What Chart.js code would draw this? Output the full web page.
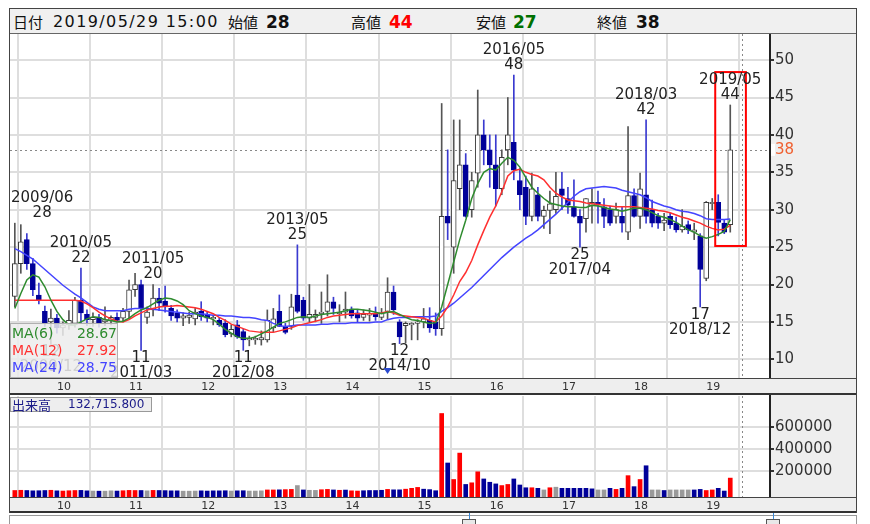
<!DOCTYPE html>
<html><head><meta charset="utf-8">
<script src="https://cdn.jsdelivr.net/npm/chart.js@4.4.1/dist/chart.umd.min.js"></script>
<style>
body{margin:0;background:#fff;width:870px;height:524px;overflow:hidden;position:relative;font-family:"DejaVu Sans",sans-serif}
#frame{position:absolute;left:9px;top:8px;width:848px;height:505px;border:1px solid #444;box-sizing:border-box}
#hdr{position:absolute;left:10px;top:9px;width:846px;height:25px;background:#f0f0f0;border-bottom:1px solid #666;box-sizing:border-box}
.h{position:absolute;top:13px;white-space:nowrap;color:#111;line-height:18px;transform:translateY(-50%)}
.cj{font-family:"Noto Sans CJK JP",sans-serif;font-size:15px}
.dt{font-family:"DejaVu Sans";font-size:16px;letter-spacing:1.4px}
.v{font-family:"DejaVu Sans";font-size:17px;font-weight:bold}
canvas{position:absolute}
#scroll{position:absolute;left:9px;top:515px;width:848px;height:11px;border:1px solid #999;box-sizing:border-box;background:#fff}
.hd{position:absolute;top:519px;width:14px;height:8px;border:1px solid #555;background:#e8e8e8;box-sizing:border-box}
.hl{position:absolute;top:513px;width:1px;height:7px;background:#3a8ad8}
</style></head>
<body>
<div id="frame"></div>
<div id="hdr">
  <span class="h cj" style="left:3px">日付</span>
  <span class="h dt" style="left:43px">2019/05/29 15:00</span>
  <span class="h cj" style="left:218px">始値</span>
  <span class="h v" style="left:256px">28</span>
  <span class="h cj" style="left:341px">高値</span>
  <span class="h v" style="left:379px;color:#f00">44</span>
  <span class="h cj" style="left:466px">安値</span>
  <span class="h v" style="left:503px;color:#007000">27</span>
  <span class="h cj" style="left:587px">終値</span>
  <span class="h v" style="left:626px">38</span>
</div>
<canvas id="pc" width="846" height="361" style="left:10px;top:34px"></canvas>
<canvas id="vc" width="846" height="118" style="left:10px;top:395px"></canvas>
<div id="scroll"></div>
<div class="hl" style="left:469px"></div><div class="hd" style="left:462px"></div>
<div class="hl" style="left:773px"></div><div class="hd" style="left:766px"></div>
<script>
// ---------------- data ----------------
const months = [];
for (let y = 2009, m = 6; y < 2019 || (y === 2019 && m <= 5); ) {
  months.push(y + '/' + String(m).padStart(2, '0'));
  m++; if (m > 12) { m = 1; y++; }
}
const open = [
 18.4,22.8,26.0,22.8,18.6,16.4,15.0,15.5,14.2,14.6,
 14.8,17.9,16.0,15.3,15.6,15.0,15.2,15.6,15.5,16.4,
 19.3,20.0,15.6,16.6,18.2,17.8,16.8,16.2,15.5,15.6,
 15.4,16.4,15.9,15.4,15.2,14.8,13.4,14.6,13.7,12.6,
 12.6,12.6,12.6,14.2,16.4,14.4,14.4,18.6,17.9,15.5,
 15.6,16.1,16.4,17.7,16.1,16.3,16.7,16.2,15.6,15.9,
 16.1,15.6,16.4,19.0,15.0,14.5,14.6,14.8,15.0,15.2,
 15.0,14.1,29.1,25.0,32.8,36.0,30.0,34.9,40.0,38.0,
 36.0,32.8,38.0,39.0,33.9,33.0,29.1,32.0,29.1,29.9,
 30.0,32.8,31.5,30.4,29.1,28.8,30.5,31.0,30.4,30.0,
 29.1,29.1,27.0,31.9,29.1,32.0,30.0,29.1,28.2,29.1,
 28.2,27.3,28.0,27.0,26.5,20.8,30.8,31.0,28.2,28.0];
const high = [
 28.2,28.0,26.8,23.5,20.2,17.1,16.7,16.0,15.0,16.5,
 18.3,22.2,16.6,16.2,16.0,17.0,15.8,16.2,16.8,20.6,
 21.5,20.6,17.0,20.0,19.5,19.8,17.2,16.6,16.2,16.3,
 16.8,17.7,16.4,15.9,15.6,15.3,14.6,15.2,14.0,13.1,
 13.1,13.8,16.6,16.8,18.6,14.8,18.7,25.3,18.3,20.0,
 16.6,19.0,21.3,18.3,17.3,19.0,17.0,16.6,16.6,16.8,
 17.0,16.8,20.9,19.8,15.3,15.0,14.9,15.3,16.8,16.9,
 16.2,44.2,38.0,42.0,42.0,37.5,35.0,46.0,42.0,40.0,
 40.0,38.0,45.0,48.0,35.5,34.5,34.9,33.0,30.5,32.5,
 35.0,35.0,33.0,34.0,30.0,31.5,32.8,32.5,31.5,30.5,
 30.9,30.4,41.1,32.8,34.9,42.0,31.3,29.5,29.5,29.5,
 29.0,30.0,28.5,28.2,26.8,31.1,31.5,32.0,28.6,44.0];
const low = [
 17.0,21.5,22.0,18.5,17.4,14.4,12.0,13.5,13.2,14.0,
 14.3,14.8,14.5,14.4,14.3,14.5,14.6,15.0,15.0,15.5,
 18.4,11.2,14.8,15.8,16.5,16.3,15.2,15.0,14.5,14.8,
 14.6,15.2,15.0,14.6,14.4,13.0,13.0,12.8,11.2,11.8,
 12.0,11.9,12.3,13.7,14.4,13.4,14.0,16.2,15.2,15.0,
 15.0,14.8,15.8,16.0,15.0,15.5,15.5,15.0,15.2,15.1,
 15.2,15.3,15.3,16.0,12.1,12.2,12.6,12.6,14.2,13.6,
 13.2,13.2,26.0,21.5,30.0,29.0,29.0,33.0,36.0,33.0,
 30.5,32.0,36.0,34.0,30.0,28.0,28.5,28.5,27.5,26.8,
 29.5,30.0,29.5,29.0,25.0,27.0,28.2,28.2,27.6,27.9,
 28.2,27.0,26.0,29.0,27.5,28.2,27.7,27.5,27.2,27.5,
 27.0,27.0,26.8,26.0,17.0,20.5,30.0,26.5,26.8,27.0];
const close = [
 22.8,25.7,22.8,19.3,17.9,14.8,15.5,14.2,14.6,15.2,
 17.9,16.2,15.3,15.6,14.9,15.3,15.6,15.2,16.4,19.3,
 20.0,16.8,16.3,18.2,17.5,17.0,15.8,15.5,15.8,15.9,
 16.3,15.7,15.5,15.6,14.6,13.3,14.0,13.0,12.6,12.8,
 12.8,12.9,15.2,15.4,14.4,13.6,17.0,16.4,15.5,16.0,
 16.0,16.3,17.7,16.8,16.3,16.7,15.8,15.5,16.0,16.1,
 15.7,16.2,19.0,16.6,13.0,14.8,14.8,15.0,15.4,14.2,
 14.1,29.1,28.2,33.9,36.0,29.1,33.9,40.0,38.0,36.0,
 32.8,37.0,40.0,35.3,32.0,29.1,32.8,29.1,29.9,30.8,
 31.8,31.9,30.6,29.1,28.2,31.5,31.0,30.8,29.1,28.2,
 30.0,28.2,31.9,29.1,32.8,29.1,28.2,28.2,28.6,28.0,
 27.3,27.8,27.3,27.3,22.0,31.0,31.0,28.3,27.0,38.0];
const ma6 = [
 16.8,18.8,20.6,21.3,21.0,19.7,17.9,16.4,15.3,14.6,
 14.6,15.0,15.4,15.7,15.6,15.3,15.2,15.0,15.1,15.5,
 16.1,16.6,16.9,17.4,17.9,18.2,18.1,17.8,17.3,16.5,
 16.1,15.8,15.6,15.3,14.7,14.0,13.5,13.0,12.8,12.8,
 13.0,13.4,13.8,14.3,14.8,15.0,15.3,15.6,15.7,15.6,
 15.8,16.0,16.1,16.2,16.3,16.5,16.7,16.7,16.6,16.5,
 16.3,16.1,16.3,16.4,16.0,15.6,15.3,15.2,15.0,14.8,
 14.9,17.0,20.0,23.0,26.0,28.6,31.5,33.5,35.0,35.5,
 35.3,36.2,37.0,36.6,35.7,34.3,33.0,32.2,31.5,30.9,
 30.7,30.5,30.4,30.4,30.3,30.3,30.6,30.5,30.3,30.1,
 30.0,29.8,30.0,30.2,30.2,30.0,29.6,29.2,29.0,28.7,
 28.3,27.8,27.3,27.0,26.5,26.2,26.4,26.7,27.1,28.67];
const ma12 = [
 17.9,17.9,17.9,17.9,17.9,17.9,17.9,17.9,17.9,17.9,
 17.9,17.8,17.4,16.9,16.3,15.8,15.4,15.1,15.0,15.3,
 15.8,16.2,16.6,16.8,17.0,17.1,17.1,17.2,17.1,17.0,
 16.9,16.7,16.4,16.1,15.6,15.2,14.7,14.4,14.1,13.8,
 13.7,13.6,13.6,13.6,13.8,14.0,14.2,14.5,14.7,14.9,
 15.1,15.3,15.6,15.8,15.9,16.0,16.1,16.1,16.1,16.1,
 16.1,16.2,16.4,16.2,15.9,15.8,15.7,15.6,15.5,15.2,
 15.0,15.8,17.0,18.6,20.4,21.6,23.2,25.3,27.2,29.0,
 30.5,32.4,34.5,35.2,35.4,35.0,34.7,34.5,34.0,33.0,
 32.2,31.7,31.3,31.2,31.1,30.9,30.8,30.7,30.6,30.5,
 30.4,30.4,30.4,30.4,30.3,30.2,30.1,29.9,29.8,29.6,
 29.3,29.0,28.8,28.5,28.2,27.8,27.5,27.3,27.4,27.92];
const ma24 = [
 24.8,24.4,23.9,23.4,22.7,22.0,21.3,20.6,19.9,19.3,
 18.7,18.2,17.6,17.0,16.7,16.5,16.5,16.5,16.5,16.7,
 16.8,16.8,16.8,16.7,16.6,16.5,16.4,16.3,16.2,16.1,
 16.1,16.1,16.0,15.9,15.9,15.8,15.8,15.7,15.6,15.6,
 15.5,15.3,15.2,14.8,14.5,14.4,14.5,14.6,14.6,14.6,
 14.6,14.7,14.7,14.8,14.8,14.8,14.9,14.9,14.9,14.9,
 15.0,15.0,15.3,15.5,15.6,15.6,15.7,15.7,15.7,15.7,
 15.8,16.4,16.9,17.5,18.2,18.9,19.6,20.4,21.2,22.0,
 22.8,23.6,24.3,25.0,25.6,26.2,26.7,27.3,28.0,28.7,
 29.4,30.2,31.0,31.8,32.4,32.8,32.9,33.0,33.1,33.0,
 32.9,32.6,32.4,32.2,32.0,31.6,31.1,30.8,30.5,30.3,
 30.0,29.8,29.7,29.5,29.2,28.8,28.7,28.7,28.7,28.75];
const volume = [
 20000,22000,20000,17000,18000,20000,22000,17000,15000,18000,
 20000,21000,17000,15000,14000,14000,17000,15000,18000,21000,
 20000,20000,17000,21000,20000,19000,17000,17000,14000,14000,
 15000,17000,15000,17000,17000,18000,15000,17000,18000,15000,
 15000,17000,25000,25000,26000,28000,30000,65000,25000,22000,
 21000,27000,30000,25000,22000,24000,17000,15000,18000,20000,
 20000,22000,30000,26000,26000,32000,40000,48000,32000,28000,
 18000,720000,270000,120000,360000,75000,90000,190000,125000,95000,
 80000,65000,75000,125000,70000,45000,45000,40000,25000,45000,
 50000,40000,40000,40000,40000,40000,35000,25000,25000,40000,
 30000,40000,155000,55000,120000,245000,25000,25000,20000,25000,
 25000,25000,25000,25000,30000,20000,25000,40000,15000,132715.8];
const volColor = [
 'r','r','b','b','b','b','r','b','r','r',
 'r','b','b','g','b','g','g','b','r','r',
 'r','b','g','r','b','b','b','b','g','g',
 'g','b','b','b','b','b','g','b','b','g',
 'g','g','r','r','b','r','r','g','b','g',
 'g','r','r','b','r','b','r','r','b','b',
 'b','b','r','b','b','r','r','r','b','b',
 'b','r','b','r','r','b','r','r','b','b',
 'b','r','r','b','b','b','r','b','g','r',
 'g','b','b','b','b','b','b','g','g','b',
 'r','b','r','b','r','b','g','g','b','g',
 'g','g','g','b','b','r','r','b','b','r'];
const yearLabels = ['10','11','12','13','14','15','16','17','18','19'];
const priceTicks = [10,15,20,25,30,35,40,45,50];
const volumeTicks = [200000,400000,600000];
const hiMonths = ['2009/06','2010/05','2011/05','2013/05','2016/05','2018/03','2019/05'];
const hiValues = [28,22,20,25,48,42,44];
const loMonths = ['2009/12','2011/03','2012/08','2014/10','2017/04','2018/12'];
const loValues = [12,11,11,12,25,17];
const markerMonths = ['2014/08'];
const futureMonth = '2019/07';
const maNames = ['MA(6)','MA(12)','MA(24)'];

// ---------------- helpers ----------------
const xOf = m => { const [Y, M] = m.split('/').map(Number); return (Y - 2010) * 12 + (M - 1) + 0.5; };
const xs = months.map(xOf);
const up = months.map((m, i) => close[i] >= open[i]);
const X_MIN = -7.30, X_MAX = 119.11;
const GRAY = '#eeeeee';
const C = { ma6: '#2e8b2e', ma12: '#ff3030', ma24: '#4444ff', upBody: '#ffffff', upLine: '#3a3a3a', upWick: '#555555', dnBody: '#000099', dnWick: '#3a3ad0' };
const pts = arr => arr.map((v, i) => ({ x: xs[i], y: v }));
const yearTickVals = yearLabels.map((l, k) => k * 12);
Chart.defaults.font.family = '"DejaVu Sans", sans-serif';

function xScaleOpts(h, fontSize) {
  return {
    type: 'linear', min: X_MIN, max: X_MAX, offset: false,
    grid: { color: '#dedede', lineWidth: 2, drawTicks: false },
    border: { display: false },
    ticks: { autoSkip: false, maxRotation: 0, labelOffset: 10, padding: 3, color: '#333', font: { size: fontSize },
             callback: (v, i) => yearLabels[i] },
    afterBuildTicks: s => { s.ticks = yearTickVals.map(v => ({ value: v })); },
    afterFit: s => { s.height = h; s.paddingLeft = 0; s.paddingRight = 0; }
  };
}
function yScaleOpts(min, max, ticks, fmt) {
  return {
    position: 'right', min, max,
    grid: { color: '#dedede', lineWidth: 2, drawTicks: true, tickLength: 4, tickColor: '#333' },
    border: { display: true, color: '#222', width: 2 },
    ticks: { autoSkip: false, padding: 1, color: '#333', font: { size: 15 }, callback: fmt },
    afterBuildTicks: s => { s.ticks = ticks.map(v => ({ value: v })); },
    afterFit: s => { s.width = 86; s.paddingTop = 0; s.paddingBottom = 0; }
  };
}
function panels(chart) {
  const { ctx, chartArea: a, width, height } = chart;
  ctx.save();
  ctx.fillStyle = '#fff'; ctx.fillRect(0, 0, width, height);
  ctx.fillStyle = GRAY;
  ctx.fillRect(a.right, 0, width - a.right, a.bottom);
  ctx.fillRect(0, a.bottom, width, height - a.bottom);
  ctx.restore();
}
function frameLines(chart) {
  const { ctx, chartArea: a, width, height } = chart;
  ctx.save();
  ctx.strokeStyle = '#444'; ctx.lineWidth = 1;
  ctx.beginPath(); ctx.moveTo(0, a.bottom + 0.5); ctx.lineTo(width, a.bottom + 0.5); ctx.stroke();
  ctx.strokeStyle = '#333'; ctx.lineWidth = 2;
  ctx.beginPath(); ctx.moveTo(0, height - 1); ctx.lineTo(width, height - 1); ctx.stroke();
  ctx.restore();
}
function futureLine(chart) {
  const { ctx, chartArea: a, scales: { x } } = chart;
  const px = Math.round(x.getPixelForValue(xOf(futureMonth))) + 0.5;
  ctx.save(); ctx.strokeStyle = '#888'; ctx.lineWidth = 1; ctx.setLineDash([2, 3]);
  ctx.beginPath(); ctx.moveTo(px, a.top); ctx.lineTo(px, a.bottom); ctx.stroke(); ctx.restore();
}

const pricePlugin = {
  id: 'pricePlugin',
  beforeDraw: panels,
  beforeDatasetsDraw(chart) {
    const { ctx, chartArea: a, scales: { y } } = chart;
    const py = Math.round(y.getPixelForValue(close[close.length - 1])) + 0.5;
    ctx.save(); ctx.strokeStyle = '#888'; ctx.lineWidth = 1; ctx.setLineDash([2, 3]);
    ctx.beginPath(); ctx.moveTo(a.left, py); ctx.lineTo(a.right, py); ctx.stroke(); ctx.restore();
    futureLine(chart);
  },
  afterDatasetsDraw(chart) {
    const { ctx, chartArea: a, scales: { x, y } } = chart;
    ctx.save();
    // highlight box around the latest candle
    const li = months.length - 1;
    const bx0 = x.getPixelForValue(xs[li] - 2.5), bx1 = x.getPixelForValue(xs[li] + 2.6);
    const by0 = y.getPixelForValue(high[li] + 4.4), by1 = y.getPixelForValue(low[li] - 1.85);
    ctx.strokeStyle = '#ff0000'; ctx.lineWidth = 2;
    ctx.strokeRect(bx0, by0, bx1 - bx0, by1 - by0);
    // high / low labels
    ctx.font = '15px "DejaVu Sans"'; ctx.fillStyle = '#222';
    ctx.textAlign = 'center'; ctx.textBaseline = 'middle';
    const place = (m, w) => Math.min(Math.max(x.getPixelForValue(xOf(m)), a.left + w / 2 + 1), a.right - w / 2 - 8);
    hiMonths.forEach((m, k) => {
      const i = months.indexOf(m);
      const cx = place(m, ctx.measureText(m).width);
      const py = y.getPixelForValue(high[i]);
      ctx.fillText(String(hiValues[k]), cx, py - 10);
      ctx.fillText(m, cx, py - 25);
    });
    loMonths.forEach((m, k) => {
      const i = months.indexOf(m);
      const cx = place(m, ctx.measureText(m).width);
      const py = y.getPixelForValue(low[i]);
      ctx.fillText(String(loValues[k]), cx, py + 8);
      ctx.fillText(m, cx, py + 23);
    });
    // event marker
    markerMonths.forEach(m => {
      const px = x.getPixelForValue(xOf(m)), py = a.bottom - 7;
      ctx.fillStyle = '#2a4ad0';
      ctx.beginPath(); ctx.moveTo(px - 4, py - 3); ctx.lineTo(px + 4, py - 3); ctx.lineTo(px, py + 3); ctx.closePath(); ctx.fill();
    });
    // MA legend box
    const bw = 108, bh = 55, lx = a.left, ly = a.bottom - bh;
    ctx.fillStyle = 'rgba(236,236,236,0.85)'; ctx.fillRect(lx, ly, bw, bh);
    ctx.strokeStyle = '#b0b0b0'; ctx.lineWidth = 1; ctx.strokeRect(lx + 0.5, ly + 0.5, bw - 1, bh - 1);
    const series = [ma6, ma12, ma24], cols = [C.ma6, C.ma12, C.ma24];
    ctx.font = '14px "DejaVu Sans"';
    maNames.forEach((n, k) => {
      const ty = ly + 11 + k * 17;
      ctx.fillStyle = cols[k];
      ctx.textAlign = 'left'; ctx.fillText(n, lx + 2, ty);
      ctx.textAlign = 'right'; ctx.fillText(series[k][series[k].length - 1].toFixed(2), lx + bw - 1, ty);
    });
    ctx.restore();
  },
  afterDraw(chart) {
    const { ctx, chartArea: a, scales: { y } } = chart;
    const last = close[close.length - 1];
    const py = y.getPixelForValue(last);
    ctx.save();
    ctx.fillStyle = '#ffffff'; ctx.fillRect(a.right + 1, py - 6, 4, 12);
    ctx.font = '15px "DejaVu Sans"'; ctx.fillStyle = '#f06030';
    ctx.textAlign = 'left'; ctx.textBaseline = 'middle';
    ctx.fillText(String(last), a.right + 5, py);
    ctx.restore();
    frameLines(chart);
  }
};

new Chart(document.getElementById('pc'), {
  type: 'bar',
  data: { datasets: [
    { type: 'line', data: pts(ma6), borderColor: C.ma6, borderWidth: 1.5, pointRadius: 0, order: 0 },
    { type: 'line', data: pts(ma12), borderColor: C.ma12, borderWidth: 1.5, pointRadius: 0, order: 0 },
    { type: 'line', data: pts(ma24), borderColor: C.ma24, borderWidth: 1.5, pointRadius: 0, order: 0 },
    { type: 'bar', order: 1, grouped: false, barThickness: 5, borderWidth: 1, borderSkipped: false,
      data: months.map((m, i) => ({ x: xs[i], y: [open[i], close[i]] })),
      backgroundColor: up.map(u => u ? C.upBody : C.dnBody),
      borderColor: up.map(u => u ? C.upLine : C.dnBody) },
    { type: 'bar', order: 2, grouped: false, barThickness: 1,
      data: months.map((m, i) => ({ x: xs[i], y: [low[i], high[i]] })),
      backgroundColor: up.map(u => u ? C.upWick : C.dnWick) }
  ]},
  options: {
    responsive: false, animation: false, devicePixelRatio: 1,
    layout: { padding: 0 },
    plugins: { legend: { display: false }, tooltip: { enabled: false } },
    scales: {
      x: xScaleOpts(17, 11),
      y: yScaleOpts(7.5, 53.49, priceTicks, v => String(v))
    }
  },
  plugins: [pricePlugin]
});

const VMIN = -39090, VMAX = 879090;
const volPlugin = {
  id: 'volPlugin',
  beforeDraw: panels,
  beforeDatasetsDraw: futureLine,
  afterDatasetsDraw(chart) {
    const { ctx, chartArea: a } = chart;
    ctx.save();
    const w = 142, h = 15;
    ctx.fillStyle = 'rgba(236,236,236,0.9)'; ctx.fillRect(a.left, a.top + 1, w, h);
    ctx.strokeStyle = '#999'; ctx.lineWidth = 1; ctx.strokeRect(a.left + 0.5, a.top + 1.5, w - 1, h - 1);
    ctx.fillStyle = '#1a1a88'; ctx.textBaseline = 'middle'; ctx.textAlign = 'left';
    ctx.font = '13px "Noto Sans CJK JP"';
    ctx.fillText('出来高', a.left + 2, a.top + 9);
    ctx.font = '12px "DejaVu Sans"';
    const lv = volume[volume.length - 1].toLocaleString('en-US', { minimumFractionDigits: 3, maximumFractionDigits: 3 });
    ctx.fillText(lv, a.left + 58, a.top + 9);
    ctx.restore();
  },
  afterDraw: frameLines
};
const VC = { r: '#ff0000', b: '#000099', g: '#9a9a9a' };
new Chart(document.getElementById('vc'), {
  type: 'bar',
  data: { datasets: [
    { type: 'bar', grouped: false, barThickness: 4, base: VMIN,
      data: volume.map((v, i) => ({ x: xs[i], y: v })),
      backgroundColor: volColor.map(c => VC[c]) }
  ]},
  options: {
    responsive: false, animation: false, devicePixelRatio: 1,
    layout: { padding: { top: 1 } },
    plugins: { legend: { display: false }, tooltip: { enabled: false } },
    scales: {
      x: xScaleOpts(16, 11),
      y: yScaleOpts(VMIN, VMAX, volumeTicks, v => String(v))
    }
  },
  plugins: [volPlugin]
});
</script>
</body></html>
